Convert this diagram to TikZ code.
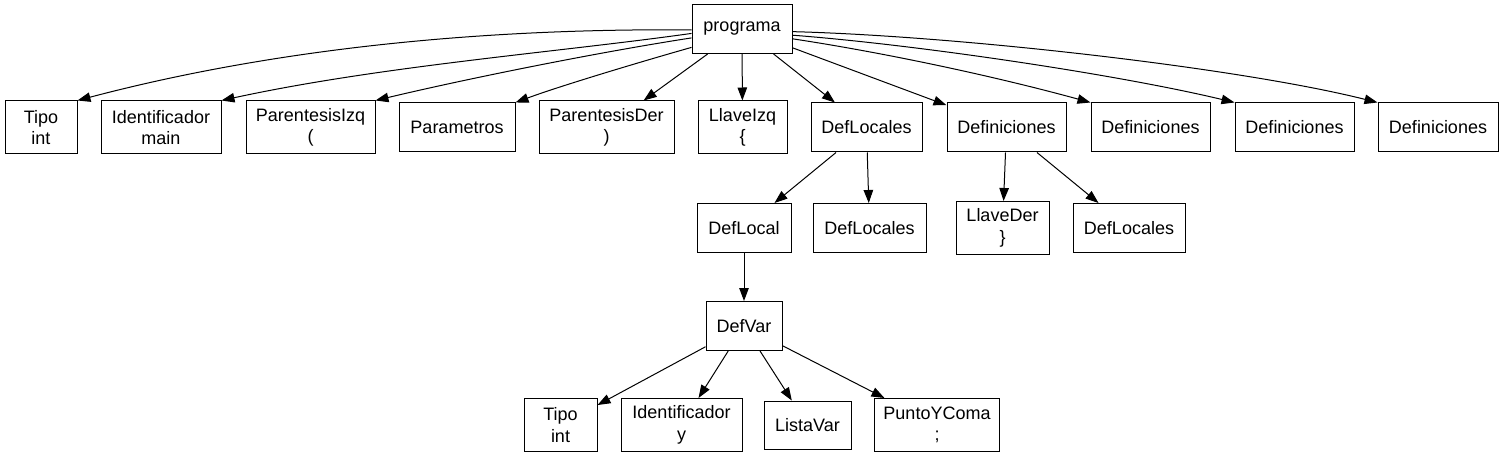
\documentclass[tikz,border=0pt]{standalone}
\usepackage{fontspec}
\setmainfont{Liberation Sans}
\usetikzlibrary{arrows.meta}
\tikzset{
  nodo/.style={draw, line width=1pt, minimum height=49pt, inner xsep=4pt, inner ysep=2pt,
    font=\fontsize{18}{21.5}\selectfont, align=center},
  hoja/.style={nodo, minimum height=53pt},
  flecha/.style={line width=1pt, -{Triangle[length=13pt,width=9.5pt]}}
}
\begin{document}
\begin{tikzpicture}[x=1pt,y=-1pt]
\useasboundingbox (0,0) rectangle (1504,457);
\node[nodo, minimum width=100pt] (prog) at (742,29) {programa};
% primer nivel
\node[hoja, minimum width=72pt] (t1) at (41,127.5) {Tipo\\int};
\node[hoja, minimum width=120pt] (id1) at (161,127.5) {Identificador\\main};
\node[hoja, minimum width=129pt] (pizq) at (310.5,127.5) {ParentesisIzq\\(};
\node[nodo, minimum width=116pt] (par) at (457,127.5) {Parametros};
\node[hoja, minimum width=135pt] (pder) at (606.5,127.5) {ParentesisDer\\)};
\node[hoja, minimum width=89pt] (lizq) at (742.5,127.5) {LlaveIzq\\\{};
\node[nodo, minimum width=111pt] (dloc) at (866.5,127.5) {DefLocales};
\node[nodo, minimum width=119pt] (def1) at (1006.5,127.5) {Definiciones};
\node[nodo, minimum width=119pt] (def2) at (1150.5,127.5) {Definiciones};
\node[nodo, minimum width=119pt] (def3) at (1294.5,127.5) {Definiciones};
\node[nodo, minimum width=120pt] (def4) at (1438,127.5) {Definiciones};
% segundo nivel
\node[nodo, minimum width=94pt] (dlocal) at (744,228) {DefLocal};
\node[nodo, minimum width=113pt] (dlocs2) at (869.5,228) {DefLocales};
\node[hoja, minimum width=93pt] (lder) at (1002.5,228) {LlaveDer\\\}};
\node[nodo, minimum width=112pt] (dlocs3) at (1129,228) {DefLocales};
\node[nodo, minimum width=76pt] (defvar) at (744,326) {DefVar};
% hojas de DefVar
\node[hoja, minimum width=73pt] (t2) at (560.5,425) {Tipo\\int};
\node[hoja, minimum width=121pt] (id2) at (681.5,425) {Identificador\\y};
\node[nodo, minimum width=87pt, minimum height=48pt] (lvar) at (807.5,425) {ListaVar};
\node[hoja, minimum width=125pt] (pyc) at (937,425) {PuntoYComa\\;};

\draw[flecha] (prog.181) .. controls (450,28) and (250,55) .. (t1.north east);
\draw[flecha] (prog.185) .. controls (560,52) and (380,66) .. (id1.north east);
\draw[flecha] (prog.190) .. controls (600,52) and (470,78) .. (pizq.north east);
\draw[flecha] (prog.200) .. controls (640,62) and (560,86) .. (par.north east);
\draw[flecha] (prog) -- (pder);
\draw[flecha] (prog) -- (lizq);
\draw[flecha] (prog) -- (dloc);
\draw[flecha] (prog) -- (def1);
\draw[flecha] (prog.349) .. controls (880,52) and (990,75) .. (def2.north west);
\draw[flecha] (prog.353) .. controls (920,45) and (1120,75) .. (def3.north west);
\draw[flecha] (prog.357) .. controls (960,36) and (1240,68) .. (def4.north west);
\draw[flecha] (dloc) -- (dlocal);
\draw[flecha] (dloc) -- (dlocs2);
\draw[flecha] (def1) -- (lder);
\draw[flecha] (def1) -- (dlocs3);
\draw[flecha] (dlocal) -- (defvar);
\draw[flecha] (defvar) -- (t2);
\draw[flecha] (defvar) -- (id2);
\draw[flecha] (defvar) -- (lvar);
\draw[flecha] (defvar) -- (pyc);
\end{tikzpicture}
\end{document}
